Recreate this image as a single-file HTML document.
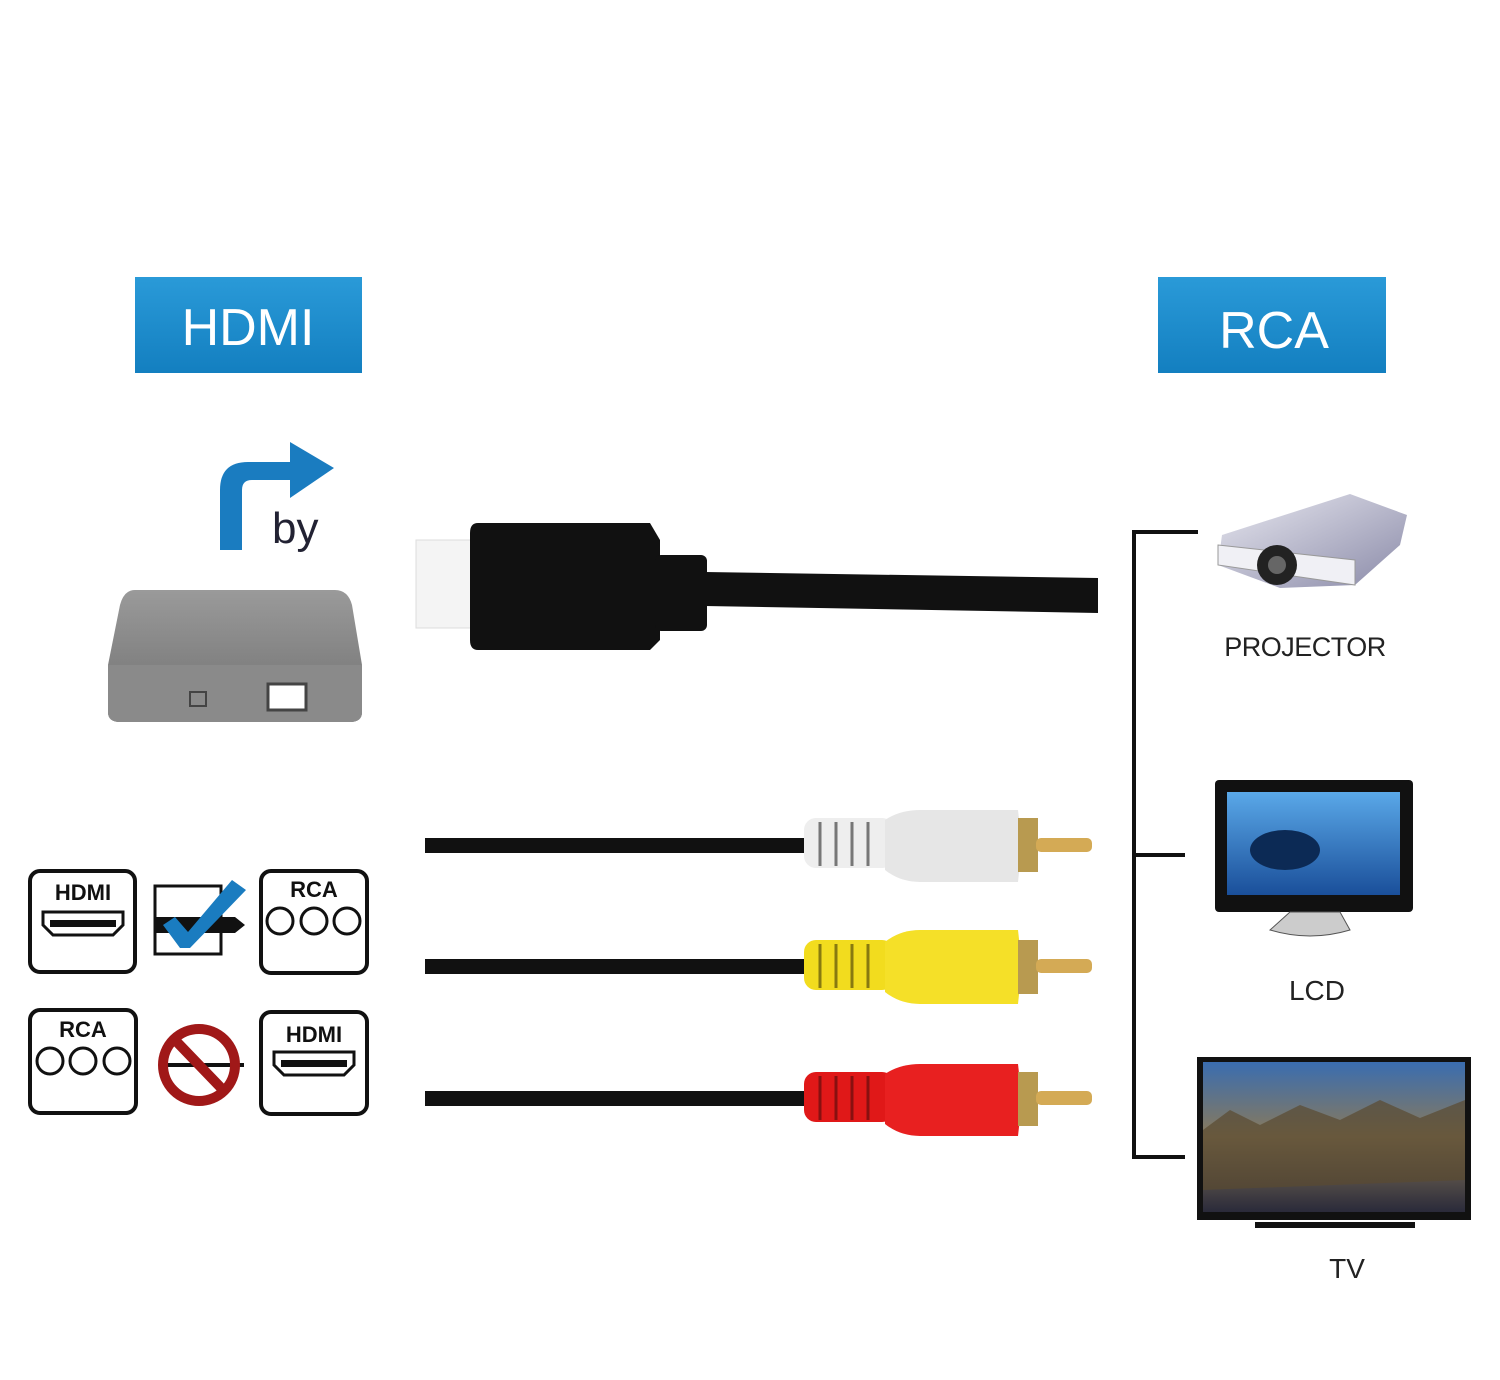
<!DOCTYPE html>
<html><head><style>
html,body{margin:0;padding:0;background:#fff;}
svg{display:block;}
text{font-family:"Liberation Sans",sans-serif;}
</style></head><body>
<svg width="1500" height="1380" viewBox="0 0 1500 1380" xmlns="http://www.w3.org/2000/svg">
<defs>
<linearGradient id="blue" x1="0" y1="0" x2="0" y2="1"><stop offset="0" stop-color="#2a9ad8"/><stop offset="1" stop-color="#137fc0"/></linearGradient>
<linearGradient id="box" x1="0" y1="0" x2="0" y2="1"><stop offset="0" stop-color="#9a9a9a"/><stop offset="1" stop-color="#6f6f6f"/></linearGradient>
<linearGradient id="scr" x1="0" y1="0" x2="0" y2="1"><stop offset="0" stop-color="#5aa8e8"/><stop offset="1" stop-color="#1a4f9a"/></linearGradient>
<linearGradient id="tv" x1="0" y1="0" x2="0" y2="1"><stop offset="0" stop-color="#3a6db0"/><stop offset="0.5" stop-color="#8a7a5a"/><stop offset="1" stop-color="#2a2a3a"/></linearGradient>
<linearGradient id="proj" x1="0" y1="0" x2="1" y2="1"><stop offset="0" stop-color="#e8e8f0"/><stop offset="1" stop-color="#8a8aa8"/></linearGradient>
</defs>
<rect x="135" y="277" width="227" height="96" fill="url(#blue)"/>
<text x="248" y="345" font-size="52" fill="#fff" text-anchor="middle" font-weight="500">HDMI</text>
<rect x="1158" y="277" width="228" height="96" fill="url(#blue)"/>
<text x="1274" y="348" font-size="52" fill="#fff" text-anchor="middle" font-weight="500">RCA</text>
<path d="M220 550 L220 490 Q220 462 248 462 L290 462 L290 442 L334 468 L290 498 L290 480 L252 480 Q242 480 242 490 L242 550 Z" fill="#1a7cc0"/>
<text x="272" y="543" font-size="44" fill="#223">by</text>
<path d="M135 590 L335 590 Q348 590 352 605 L362 665 L362 712 Q362 722 350 722 L120 722 Q108 722 108 712 L108 665 L120 605 Q124 590 135 590 Z" fill="url(#box)"/>
<path d="M108 665 L362 665 L362 712 Q362 722 350 722 L120 722 Q108 722 108 712 Z" fill="#8a8a8a"/>
<rect x="268" y="684" width="38" height="26" fill="#fff" stroke="#444" stroke-width="3"/>
<rect x="190" y="692" width="16" height="14" fill="none" stroke="#444" stroke-width="2"/>
<rect x="416" y="540" width="56" height="88" fill="#f4f4f4" stroke="#ddd"/>
<path d="M478 523 L650 523 L660 540 L660 640 L650 650 L478 650 Q470 650 470 640 L470 533 Q470 523 478 523 Z" fill="#111"/>
<rect x="655" y="555" width="52" height="76" rx="6" fill="#111"/>
<path d="M705 572 L1098 578 L1098 613 L705 606 Z" fill="#111"/>
<g>
<rect x="425" y="838" width="385" height="15" fill="#111"/>
<rect x="425" y="959" width="385" height="15" fill="#111"/>
<rect x="425" y="1091" width="385" height="15" fill="#111"/>
</g>
<rect x="804" y="818" width="90" height="50" rx="12" fill="#eee"/>
<g stroke="#777" stroke-width="3"><line x1="820" y1="822" x2="820" y2="866"/><line x1="836" y1="822" x2="836" y2="866"/><line x1="852" y1="822" x2="852" y2="866"/><line x1="868" y1="822" x2="868" y2="866"/></g>
<path d="M885 820 Q900 810 920 810 L1018 810 L1022 845 L1018 882 L920 882 Q900 882 885 870 Z" fill="#e6e6e6"/>
<rect x="1018" y="818" width="20" height="54" fill="#b89a50"/>
<rect x="1036" y="838" width="56" height="14" rx="5" fill="#d4aa55"/>
<rect x="804" y="940" width="90" height="50" rx="12" fill="#f2dc1e"/>
<g stroke="#887a10" stroke-width="3"><line x1="820" y1="944" x2="820" y2="988"/><line x1="836" y1="944" x2="836" y2="988"/><line x1="852" y1="944" x2="852" y2="988"/><line x1="868" y1="944" x2="868" y2="988"/></g>
<path d="M885 942 Q900 930 920 930 L1018 930 L1022 966 L1018 1004 L920 1004 Q900 1004 885 992 Z" fill="#f5e028"/>
<rect x="1018" y="940" width="20" height="54" fill="#b89a50"/>
<rect x="1036" y="959" width="56" height="14" rx="5" fill="#d4aa55"/>
<rect x="804" y="1072" width="90" height="50" rx="12" fill="#e01818"/>
<g stroke="#881010" stroke-width="3"><line x1="820" y1="1076" x2="820" y2="1120"/><line x1="836" y1="1076" x2="836" y2="1120"/><line x1="852" y1="1076" x2="852" y2="1120"/><line x1="868" y1="1076" x2="868" y2="1120"/></g>
<path d="M885 1074 Q900 1064 920 1064 L1018 1064 L1022 1100 L1018 1136 L920 1136 Q900 1136 885 1124 Z" fill="#e82020"/>
<rect x="1018" y="1072" width="20" height="54" fill="#b89a50"/>
<rect x="1036" y="1091" width="56" height="14" rx="5" fill="#d4aa55"/>
<g stroke="#111" stroke-width="4" fill="none">
<path d="M1198 532 L1134 532 L1134 1157 L1185 1157"/>
<line x1="1134" y1="855" x2="1185" y2="855"/>
</g>
<path d="M1222 535 L1350 494 L1407 515 L1400 545 L1355 585 L1280 588 L1218 565 Z" fill="url(#proj)"/>
<path d="M1218 545 L1355 560 L1355 585 L1218 565 Z" fill="#f0f0f5" stroke="#999"/>
<circle cx="1277" cy="565" r="20" fill="#222"/><circle cx="1277" cy="565" r="9" fill="#666"/>
<text x="1305" y="656" font-size="27" fill="#222" text-anchor="middle" letter-spacing="-0.5">PROJECTOR</text>
<rect x="1215" y="780" width="198" height="132" rx="4" fill="#111"/>
<rect x="1227" y="792" width="173" height="103" fill="url(#scr)"/>
<ellipse cx="1285" cy="850" rx="35" ry="20" fill="#0c2a55"/>
<path d="M1290 912 L1340 912 L1350 930 Q1310 942 1270 930 Z" fill="#ccc" stroke="#555"/>
<text x="1317" y="1000" font-size="28" fill="#222" text-anchor="middle">LCD</text>
<rect x="1197" y="1057" width="274" height="163" fill="#111"/>
<rect x="1203" y="1062" width="262" height="150" fill="url(#tv)"/>
<path d="M1203 1130 L1230 1110 L1260 1125 L1300 1105 L1340 1120 L1380 1100 L1420 1118 L1465 1100 L1465 1180 L1203 1190 Z" fill="#5a4a30" opacity="0.7"/>
<rect x="1255" y="1222" width="160" height="6" fill="#111"/>
<text x="1347" y="1278" font-size="28" fill="#222" text-anchor="middle">TV</text>
<g fill="none" stroke="#111" stroke-width="4">
<rect x="30" y="871" width="105" height="101" rx="10"/>
<rect x="261" y="871" width="106" height="102" rx="10"/>
<rect x="30" y="1010" width="106" height="103" rx="10"/>
<rect x="261" y="1012" width="106" height="102" rx="10"/>
<rect x="155" y="886" width="66" height="68" stroke-width="3"/>
<path d="M43 912 L123 912 L123 925 L113 935 L53 935 L43 925 Z" stroke-width="3"/>
<path d="M274 1052 L354 1052 L354 1065 L344 1075 L284 1075 L274 1065 Z" stroke-width="3"/>
<circle cx="280" cy="921" r="13" stroke-width="3"/><circle cx="314" cy="921" r="13" stroke-width="3"/><circle cx="347" cy="921" r="13" stroke-width="3"/>
<circle cx="50" cy="1061" r="13" stroke-width="3"/><circle cx="83" cy="1061" r="13" stroke-width="3"/><circle cx="117" cy="1061" r="13" stroke-width="3"/>
</g>
<rect x="50" y="920" width="66" height="7" fill="#111"/>
<rect x="281" y="1060" width="66" height="7" fill="#111"/>
<g font-weight="bold" font-size="22" fill="#111" text-anchor="middle">
<text x="83" y="900">HDMI</text><text x="314" y="897">RCA</text>
<text x="83" y="1037">RCA</text><text x="314" y="1042">HDMI</text>
</g>
<path d="M155 917 L235 917 L245 925 L235 933 L155 933" fill="#111"/>
<path d="M163 925 L175 917 L188 932 L232 880 L246 890 L190 948 L180 948 Z" fill="#1a7cc0"/>
<line x1="160" y1="1065" x2="244" y2="1065" stroke="#111" stroke-width="4"/>
<circle cx="199" cy="1065" r="36" fill="none" stroke="#a01818" stroke-width="10"/>
<line x1="175" y1="1040" x2="225" y2="1092" stroke="#a01818" stroke-width="10"/>
</svg>
</body></html>
